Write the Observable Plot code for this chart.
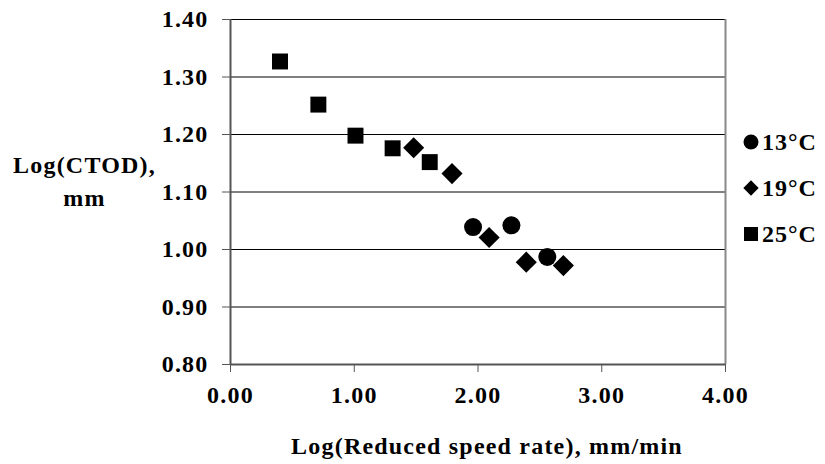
<!DOCTYPE html>
<html><head><meta charset="utf-8">
<script src="https://cdn.jsdelivr.net/npm/d3@7"></script>
<script src="https://cdn.jsdelivr.net/npm/@observablehq/plot@0.6"></script>
<style>
body{margin:0;background:#fff;}
#wrap{position:relative;width:825px;height:464px;}
#legend{position:absolute;left:743px;top:119px;font-family:"Liberation Serif",serif;font-weight:bold;font-size:24px;letter-spacing:1px;color:#000;}
#legend .row{display:flex;align-items:center;height:46px;}
#legend svg{margin-right:3px;}
</style>
</head><body><div id="wrap"><div id="legend"></div></div>
<script>
// Series names
const series = ["13°C", "19°C", "25°C"];
const symbols = ["circle", "diamond2", "square"];
// 13°C
const x13 = [1.96, 2.27, 2.56];
const y13 = [1.039, 1.042, 0.987];
// 19°C
const x19 = [1.48, 1.79, 2.09, 2.39, 2.69];
const y19 = [1.177, 1.132, 1.021, 0.978, 0.972];
// 25°C
const x25 = [0.40, 0.71, 1.01, 1.31, 1.61];
const y25 = [1.327, 1.252, 1.198, 1.176, 1.152];
// Ticks
const xTicks = [0, 1, 2, 3, 4];
const yTicks = [0.8, 0.9, 1.0, 1.1, 1.2, 1.3, 1.4];
const xTitle = "Log(Reduced speed rate), mm/min";
const yTitle = "Log(CTOD),\nmm";

const mk = (xs, ys) => xs.map((x, i) => ({x, y: ys[i]}));
const d13 = mk(x13, y13), d19 = mk(x19, y19), d25 = mk(x25, y25);

const fmt = d3.format(".2f");
const chart = Plot.plot({
  width: 825, height: 464,
  marginLeft: 230, marginRight: 100, marginTop: 19, marginBottom: 100,
  style: {fontFamily: "'Liberation Serif', serif", fontSize: "24px", fontWeight: "bold", letterSpacing: "1.2px", color: "#000", background: "#fff"},
  x: {domain: [0, 4]},
  y: {domain: [0.8, 1.4]},
  marks: [
    Plot.ruleY(yTicks, {stroke: "#000", strokeWidth: 1}),
    Plot.ruleX([4], {stroke: "#888", strokeWidth: 2}),
    Plot.ruleX([0], {stroke: "#555", strokeWidth: 2}),
    Plot.ruleY([0.8], {stroke: "#555", strokeWidth: 2}),
    Plot.axisY(yTicks, {tickFormat: fmt, tickSize: 8, tickPadding: 14, stroke: "#555", label: null, fill: "#000", fontSize: 24}),
    Plot.axisX(xTicks, {tickFormat: fmt, tickSize: 8, tickPadding: 13, stroke: "#555", label: null, fill: "#000", fontSize: 24}),
    Plot.text([yTitle], {frameAnchor: "left", dx: -146, dy: -13, textAnchor: "middle", lineAnchor: "middle", lineHeight: 1.38, fill: "#000", fontSize: 24}),
    Plot.text([xTitle], {frameAnchor: "bottom", dx: 9, dy: 82, textAnchor: "middle", lineAnchor: "middle", fill: "#000", fontSize: 24}),
    Plot.dot(d13, {x: "x", y: "y", symbol: symbols[0], r: 9, fill: "#000", stroke: "none"}),
    Plot.dot(d19, {x: "x", y: "y", symbol: symbols[1], r: 9.5, fill: "#000", stroke: "none"}),
    Plot.dot(d25, {x: "x", y: "y", symbol: symbols[2], r: 9, fill: "#000", stroke: "none"})
  ]
});
document.getElementById("wrap").prepend(chart);

// Legend (HTML, right of the plot)
const symMap = {circle: d3.symbolCircle, diamond2: d3.symbolDiamond2, square: d3.symbolSquare};
const legend = d3.select("#legend");
series.forEach((s, i) => {
  const row = legend.append("div").attr("class", "row");
  const sv = row.append("svg").attr("width", 16).attr("height", 16).attr("viewBox", "-8 -8 16 16");
  const size = symbols[i] === "diamond2" ? 150 : (symbols[i] === "square" ? 196 : 177);
  sv.append("path").attr("d", d3.symbol(symMap[symbols[i]], size)()).attr("fill", "#000");
  row.append("span").text(s);
});
</script>
</body></html>
